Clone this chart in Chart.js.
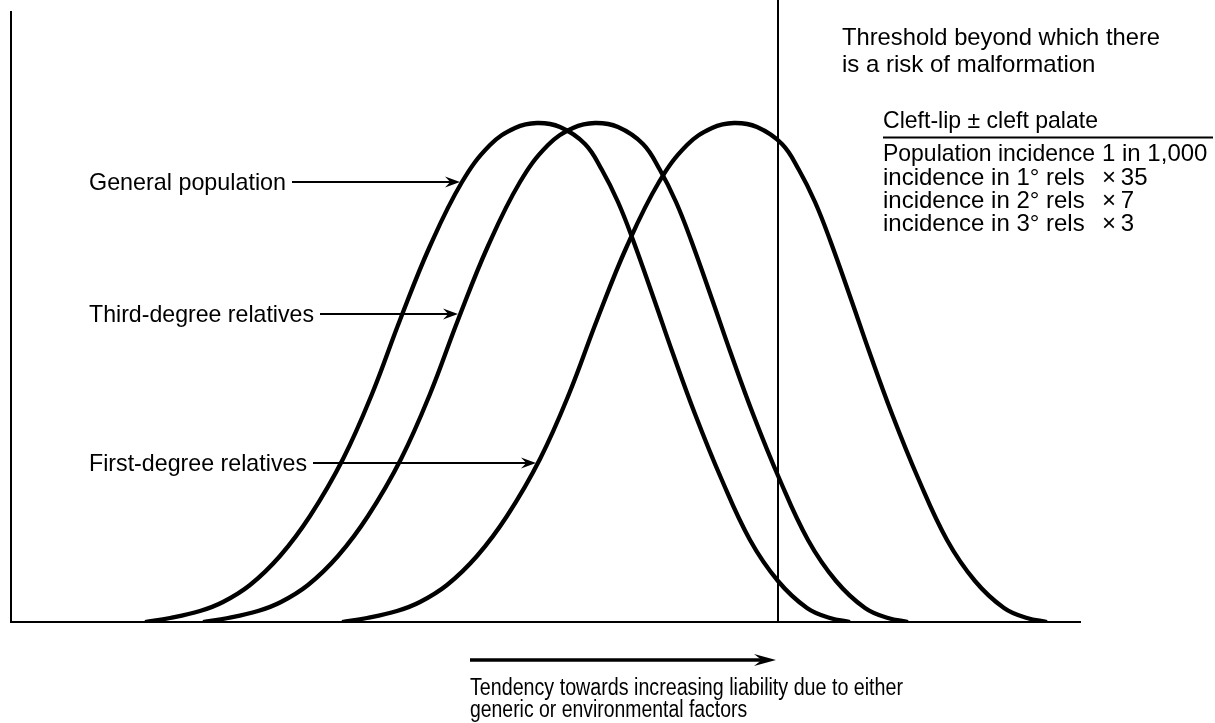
<!DOCTYPE html>
<html>
<head>
<meta charset="utf-8">
<title>Liability threshold</title>
<script src="https://cdn.jsdelivr.net/npm/chart.js@4.4.1/dist/chart.umd.min.js"></script>
<style>
  html, body { margin: 0; padding: 0; background: #fff; }
  #myChart { display: block; }
</style>
</head>
<body>
<canvas id="myChart" width="1215" height="723"></canvas>
<script>
// Liability (x) and frequency (y), one set per curve
const curveY = [0, 4, 11, 20, 37, 66, 106, 163, 228, 302, 376, 440, 477, 494, 499, 495, 478, 452, 420, 382, 320, 271, 208, 144, 82, 41, 14, 4, 0];

const generalX = [134, 159, 189, 212, 239, 269, 299, 332, 361, 389, 419, 451, 479, 504, 526, 549, 574, 591, 607, 622, 644, 661, 684, 710, 739, 767, 796, 819, 839];
const generalY = curveY;

const thirdX = [192, 217, 247, 270, 297, 327, 357, 390, 419, 447, 477, 509, 537, 562, 584, 607, 632, 649, 665, 680, 702, 719, 742, 768, 797, 825, 854, 877, 897];
const thirdY = curveY;

const firstX = [331, 356, 386, 409, 436, 466, 496, 529, 558, 586, 616, 648, 676, 701, 723, 746, 771, 788, 804, 819, 841, 858, 881, 907, 936, 964, 993, 1016, 1036];
const firstY = curveY;

const thresholdX = 767;
const thresholdTop = 622;

const xMax = 1069;
const yMax = 610;

// label, curve value where the pointer ends
const pointerLabels = ['General population', 'Third-degree relatives', 'First-degree relatives'];
const pointerTipX = [449, 447, 525];
const pointerTipY = [440, 308, 159];

const thresholdText = ['Threshold beyond which there', 'is a risk of malformation'];
const tableTitle = 'Cleft-lip \u00b1 cleft palate';
const tableRows = ['Population incidence', 'incidence in 1\u00b0 rels', 'incidence in 2\u00b0 rels', 'incidence in 3\u00b0 rels'];
const tableValues = ['1 in 1,000', '\u00d7\u200935', '\u00d7\u20097', '\u00d7\u20093'];
const axisText = ['Tendency towards increasing liability due to either', 'generic or environmental factors'];

function toPoints(xs, ys) {
    var pts = [];
    for (var i = 0; i < xs.length; i++) {
        pts.push({ x: xs[i], y: ys[i] });
    }
    return pts;
}

function curve(label, xs, ys) {
    return {
        label: label,
        data: toPoints(xs, ys),
        showLine: true,
        borderColor: '#000',
        borderWidth: 4.3,
        pointRadius: 0,
        tension: 0.4
    };
}

// pointer arrow with a small barbed head
function drawArrow(ctx, x1, y, x2, headLen, headW, lineW) {
    ctx.save();
    ctx.strokeStyle = '#000';
    ctx.fillStyle = '#000';
    ctx.lineWidth = lineW;
    ctx.beginPath();
    ctx.moveTo(x1, y);
    ctx.lineTo(x2 - headLen * 0.6, y);
    ctx.stroke();
    ctx.beginPath();
    ctx.moveTo(x2, y);
    ctx.lineTo(x2 - headLen, y - headW);
    ctx.lineTo(x2 - headLen * 0.65, y);
    ctx.lineTo(x2 - headLen, y + headW);
    ctx.closePath();
    ctx.fill();
    ctx.restore();
}

const annotations = {
    id: 'annotations',
    afterDraw(chart) {
        const ctx = chart.ctx;
        const xs = chart.scales.x;
        const ys = chart.scales.y;
        ctx.save();
        ctx.fillStyle = '#000';
        ctx.textBaseline = 'alphabetic';
        ctx.font = '24px "Liberation Sans", Arial, sans-serif';

        // labels on the left with pointers to the curves
        var labelBase = [190, 322, 471];
        var labelMaxW = [197, 225, 218];
        for (var i = 0; i < pointerLabels.length; i++) {
            ctx.fillText(pointerLabels[i], 89, labelBase[i], labelMaxW[i]);
            var w = Math.min(ctx.measureText(pointerLabels[i]).width, labelMaxW[i]);
            var tipX = xs.getPixelForValue(pointerTipX[i]);
            var tipY = ys.getPixelForValue(pointerTipY[i]);
            drawArrow(ctx, 89 + w + 6, tipY, tipX, 15, 5.5, 2);
        }

        // threshold note
        ctx.fillText(thresholdText[0], 842, 45, 318);
        ctx.fillText(thresholdText[1], 842, 72, 318);

        // small table
        ctx.fillText(tableTitle, 883, 128, 215);
        ctx.lineWidth = 2;
        ctx.beginPath();
        ctx.moveTo(883, 137.5);
        ctx.lineTo(1213, 137.5);
        ctx.stroke();
        var rowBase = [161, 185, 208, 231];
        for (var r = 0; r < tableRows.length; r++) {
            ctx.fillText(tableRows[r], 883, rowBase[r], 212);
            ctx.fillText(tableValues[r], 1102, rowBase[r], 112);
        }

        // direction arrow under the axis
        drawArrow(ctx, 470, 660, 776, 22, 6, 3.5);
        ctx.font = '23px "Liberation Sans", Arial, sans-serif';
        ctx.fillText(axisText[0], 470, 695, 433);
        ctx.fillText(axisText[1], 470, 717, 433 * 0.64);
        ctx.restore();
    }
};

var ctx = document.getElementById('myChart').getContext('2d');
var myChart = new Chart(ctx, {
    type: 'scatter',
    data: {
        datasets: [
            curve('General population', generalX, generalY),
            curve('Third-degree relatives', thirdX, thirdY),
            curve('First-degree relatives', firstX, firstY),
            {
                label: 'Threshold',
                data: [{ x: thresholdX, y: 0 }, { x: thresholdX, y: thresholdTop }],
                showLine: true,
                borderColor: '#000',
                borderWidth: 2,
                pointRadius: 0,
                clip: false
            }
        ]
    },
    options: {
        responsive: false,
        devicePixelRatio: 1,
        animation: false,
        layout: { padding: { left: 11, top: 12, right: 135, bottom: 101 } },
        plugins: {
            legend: { display: false },
            tooltip: { enabled: false },
            title: { display: false }
        },
        scales: {
            x: {
                type: 'linear',
                min: 0,
                max: xMax,
                ticks: { display: false },
                grid: { display: false, drawTicks: false },
                border: { display: true, color: '#000', width: 2 }
            },
            y: {
                type: 'linear',
                min: 0,
                max: yMax,
                ticks: { display: false },
                grid: { display: false, drawTicks: false },
                border: { display: true, color: '#000', width: 2 }
            }
        }
    },
    plugins: [annotations]
});
</script>
</body>
</html>
